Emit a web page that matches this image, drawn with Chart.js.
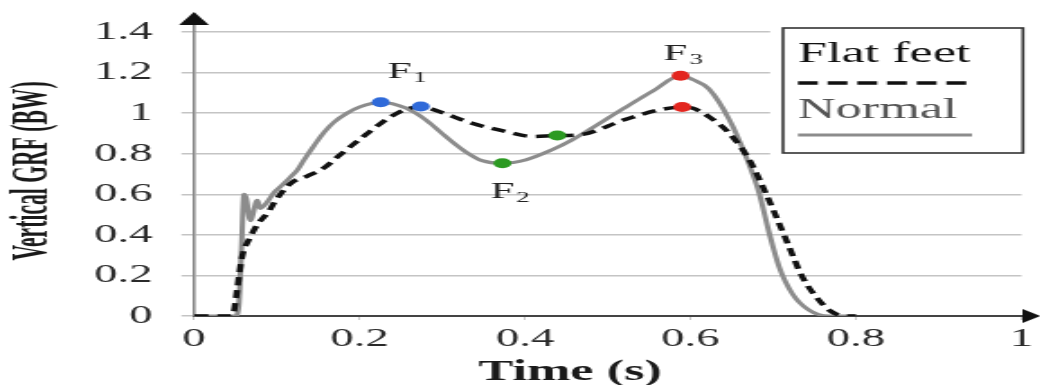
<!DOCTYPE html>
<html>
<head>
<meta charset="utf-8">
<title>Vertical GRF</title>
<script src="https://cdn.jsdelivr.net/npm/chart.js@4.4.1/dist/chart.umd.min.js"></script>
<style>
  html, body { margin: 0; padding: 0; background: #fff; overflow: hidden; }
  /* figure is laid out narrow and widened 1.8x, so glyphs and dots come out wide */
  #frame { width: 578px; height: 385px; transform: scaleX(1.8); transform-origin: 0 0; }
</style>
</head>
<body>
<div id="frame"><canvas id="grfChart"></canvas></div>
<script>
// Vertical ground reaction force over one stance phase (body weights)
const flatTime = [0, 0.045, 0.048, 0.052, 0.058, 0.068, 0.0765, 0.091, 0.097, 0.117, 0.137, 0.157, 0.175,
  0.2, 0.224, 0.248, 0.274, 0.296, 0.336, 0.377, 0.409, 0.439, 0.465, 0.52, 0.562, 0.59, 0.602, 0.622,
  0.647, 0.671, 0.691, 0.707, 0.719, 0.735, 0.755, 0.771, 0.787, 0.8];
const flatGrf = [0, 0, 0.02, 0.13, 0.29, 0.39, 0.45, 0.52, 0.56, 0.655, 0.69, 0.73, 0.79,
  0.87, 0.945, 1.005, 1.033, 1.008, 0.95, 0.909, 0.885, 0.89, 0.893, 0.967, 1.016, 1.03, 1.025, 0.983,
  0.9, 0.77, 0.605, 0.457, 0.342, 0.194, 0.079, 0.02, 0, 0];

const normalTime = [0, 0.05, 0.054, 0.057, 0.0604, 0.063, 0.068, 0.0765, 0.08, 0.088, 0.097, 0.105, 0.117,
  0.125, 0.133, 0.145, 0.157, 0.169, 0.185, 0.2, 0.2256, 0.256, 0.28, 0.304, 0.328, 0.348, 0.3727, 0.401,
  0.433, 0.457, 0.52, 0.555, 0.588, 0.603, 0.622, 0.647, 0.667, 0.683, 0.695, 0.707, 0.723, 0.743, 0.767, 0.8];
const normalGrf = [0, 0, 0.05, 0.3, 0.6, 0.58, 0.47, 0.57, 0.53, 0.56, 0.61, 0.64, 0.687,
  0.72, 0.77, 0.84, 0.905, 0.955, 1.0, 1.03, 1.054, 1.025, 0.967, 0.885, 0.81, 0.766, 0.753, 0.77,
  0.82, 0.868, 1.025, 1.11, 1.184, 1.165, 1.12, 0.967, 0.786, 0.605, 0.41, 0.243, 0.11, 0.03, 0, 0];

// F1 / F2 / F3 peaks and valley, normal then flat feet
const peakTime = [0.2256, 0.274, 0.3727, 0.439, 0.588, 0.59];
const peakGrf = [1.054, 1.033, 0.753, 0.89, 1.184, 1.03];
const peakName = ['F1', 'F1', 'F2', 'F2', 'F3', 'F3'];

const xTicks = [0, 0.2, 0.4, 0.6, 0.8, 1];
const yTicks = [0, 0.2, 0.4, 0.6, 0.8, 1, 1.2, 1.4];
const seriesNames = ['Flat feet', 'Normal'];

const serif = "'Liberation Serif', 'Times New Roman', serif";
const peakColors = { F1: '#2f6ad9', F2: '#2c9a22', F3: '#e3261f' };
// where each peak name sits (time, BW)
const peakLabelAt = { F1: [0.2575, 1.174], F2: [0.382, 0.582], F3: [0.591, 1.263] };

const toPoints = (xs, ys) => xs.map((x, i) => ({ x: x, y: ys[i] }));

// axis arrows, axis titles, peak names and the boxed legend
const figureExtras = {
  id: 'figureExtras',
  afterDraw(chart) {
    const ctx = chart.ctx;
    const area = chart.chartArea;
    const xs = chart.scales.x;
    const ys = chart.scales.y;
    ctx.save();

    // y axis arrow
    ctx.strokeStyle = '#8a8a8a';
    ctx.lineWidth = 1.6;
    ctx.beginPath();
    ctx.moveTo(area.left, area.top);
    ctx.lineTo(area.left, 24);
    ctx.stroke();
    ctx.fillStyle = '#111';
    ctx.beginPath();
    ctx.moveTo(area.left, 12);
    ctx.lineTo(area.left + 8.3, 25);
    ctx.lineTo(area.left - 8.3, 25);
    ctx.closePath();
    ctx.fill();

    // x axis arrow
    ctx.strokeStyle = '#444';
    ctx.lineWidth = 2;
    ctx.beginPath();
    ctx.moveTo(area.right, area.bottom);
    ctx.lineTo(570, area.bottom);
    ctx.stroke();
    ctx.beginPath();
    ctx.moveTo(578, area.bottom);
    ctx.lineTo(568, area.bottom - 7);
    ctx.lineTo(568, area.bottom + 7);
    ctx.closePath();
    ctx.fill();

    // axis titles
    ctx.fillStyle = '#1a1a1a';
    ctx.font = 'bold 29px ' + serif;
    ctx.textAlign = 'center';
    ctx.textBaseline = 'alphabetic';
    ctx.fillText('Time (s)', 316.7, 380);

    // condensed, rotated y title
    ctx.save();
    ctx.translate(18.5, 171);
    ctx.rotate(-Math.PI / 2);
    ctx.scale(0.72, 1);
    ctx.font = 'bold 30px ' + serif;
    ctx.textBaseline = 'middle';
    ctx.fillText('Vertical GRF (BW)', 0, 0);
    ctx.restore();

    // peak names with subscripts
    ctx.textAlign = 'left';
    ctx.fillStyle = '#222';
    Object.keys(peakLabelAt).forEach(function(name) {
      const at = peakLabelAt[name];
      const px = xs.getPixelForValue(at[0]);
      const py = ys.getPixelForValue(at[1]);
      ctx.font = '24px ' + serif;
      const wF = ctx.measureText('F').width;
      ctx.font = '15px ' + serif;
      const wSub = ctx.measureText(name.slice(1)).width;
      const x0 = px - (wF + wSub + 1) / 2;
      ctx.font = '24px ' + serif;
      ctx.fillText('F', x0, py);
      ctx.font = '15px ' + serif;
      ctx.fillText(name.slice(1), x0 + wF + 1, py + 4);
    });

    // legend box, drawn over the top grid lines
    ctx.fillStyle = '#fff';
    ctx.fillRect(427.8, 24, 150, 134);
    ctx.strokeStyle = '#333';
    ctx.lineWidth = 1.6;
    ctx.strokeRect(435, 28, 133.3, 125);

    ctx.font = '29px ' + serif;
    ctx.fillStyle = '#111';
    ctx.fillText(seriesNames[0], 443.3, 62);
    ctx.strokeStyle = '#111';
    ctx.lineWidth = 3.5;
    ctx.setLineDash([11, 5.5]);
    ctx.beginPath();
    ctx.moveTo(443.3, 83);
    ctx.lineTo(540, 83);
    ctx.stroke();
    ctx.setLineDash([]);

    ctx.fillStyle = '#555';
    ctx.fillText(seriesNames[1], 443.3, 118);
    ctx.strokeStyle = '#8c8c8c';
    ctx.lineWidth = 3;
    ctx.beginPath();
    ctx.moveTo(443.3, 135);
    ctx.lineTo(540, 135);
    ctx.stroke();

    ctx.restore();
  }
};

new Chart(document.getElementById('grfChart'), {
  type: 'line',
  data: {
    datasets: [{
      label: 'Peaks',
      type: 'scatter',
      data: toPoints(peakTime, peakGrf),
      showLine: false,
      pointRadius: 5,
      pointBorderWidth: 0,
      pointBackgroundColor: peakName.map(n => peakColors[n]),
      order: 0
    }, {
      label: seriesNames[0],
      data: toPoints(flatTime, flatGrf),
      borderColor: '#111',
      borderWidth: 3.5,
      borderDash: [8, 5],
      pointRadius: 0,
      cubicInterpolationMode: 'monotone',
      order: 1
    }, {
      label: seriesNames[1],
      data: toPoints(normalTime, normalGrf),
      borderColor: '#8c8c8c',
      borderWidth: 3,
      pointRadius: 0,
      cubicInterpolationMode: 'monotone',
      order: 2
    }]
  },
  options: {
    responsive: true,
    maintainAspectRatio: false,
    animation: false,
    layout: { padding: { top: 32, right: 10, bottom: 0, left: 0 } },
    plugins: {
      legend: { display: false },
      tooltip: { enabled: false }
    },
    scales: {
      x: {
        type: 'linear',
        min: 0,
        max: 1,
        afterBuildTicks: scale => { scale.ticks = xTicks.map(v => ({ value: v })); },
        afterFit: scale => { scale.height = 69; },
        border: { display: true, color: '#444', width: 2 },
        grid: { drawOnChartArea: false, drawTicks: true, tickLength: 4, color: '#c8c8c8' },
        ticks: {
          padding: 4,
          maxRotation: 0,
          color: '#2a2a2a',
          font: { family: serif, size: 26 },
          callback: v => String(v)
        }
      },
      y: {
        min: 0,
        max: 1.4,
        afterBuildTicks: scale => { scale.ticks = yTicks.map(v => ({ value: v })); },
        afterFit: scale => { scale.width = 107.8; },
        border: { display: true, color: '#8a8a8a', width: 1.6 },
        grid: { color: '#c4c4c4', lineWidth: 1.5, tickLength: 7 },
        ticks: {
          padding: 16,
          color: '#2a2a2a',
          font: { family: serif, size: 26 },
          callback: v => String(v)
        }
      }
    }
  },
  plugins: [figureExtras]
});
</script>
</body>
</html>
